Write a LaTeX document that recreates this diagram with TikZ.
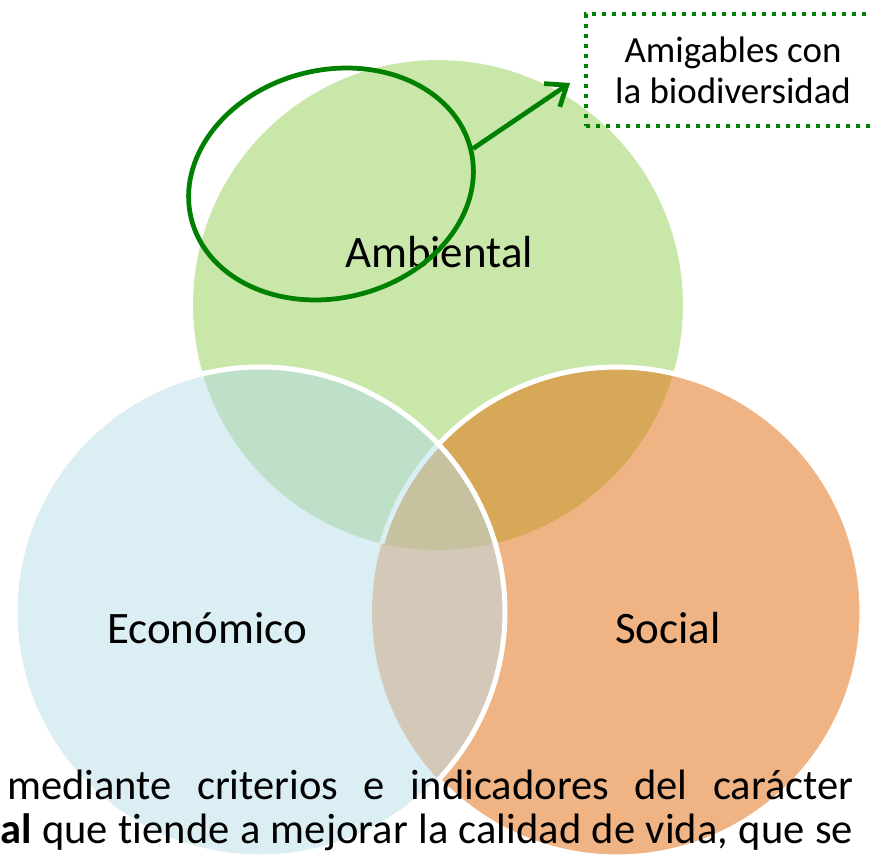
\documentclass[tikz,border=0pt]{standalone}
\usepackage{fontspec}
\setmainfont{Carlito}[Ligatures=NoCommon]
\usetikzlibrary{arrows.meta,shapes.geometric,positioning}
\definecolor{ambverde}{HTML}{C9E7A9}
\definecolor{ecoazul}{HTML}{DAEEF3}
\definecolor{socnaranja}{HTML}{F0B383}
\definecolor{verdeazul}{HTML}{BFE0C8}
\definecolor{verdenaranja}{HTML}{D6A858}
\definecolor{azulnaranja}{HTML}{D4C9B8}
\definecolor{centro}{HTML}{C6C2A0}
\definecolor{marca}{HTML}{008000}

\begin{document}
\begin{tikzpicture}[x=0.02cm,y=-0.02cm,
		esfera/.style={circle,inner sep=0pt,minimum size=9.8cm},
		borde/.style={white,line width=0.1cm},
		etiqueta/.style={anchor=base,inner sep=0pt,font=\fontsize{25.6}{30}\selectfont},
		parrafo/.style={anchor=base west,inner sep=0pt,font=\fontsize{24.2}{28}\selectfont}]
	\useasboundingbox (0,0) rectangle (870,855);
	\node[esfera,fill=ambverde] (amb) at (438,305) {};
	\node[esfera,fill=socnaranja] (soc) at (617,612) {};
	\begin{scope}
		\clip (soc.center) circle[radius=4.9cm];
		\fill[verdenaranja] (amb.center) circle[radius=4.9cm];
	\end{scope}
	\draw[borde] (soc.center) circle[radius=4.9cm];
	\node[esfera,fill=ecoazul] (eco) at (260,612) {};
	\begin{scope}
		\clip (eco.center) circle[radius=4.9cm];
		\fill[verdeazul] (amb.center) circle[radius=4.9cm];
		\fill[azulnaranja] (soc.center) circle[radius=4.9cm];
		\clip (amb.center) circle[radius=4.9cm];
		\fill[centro] (soc.center) circle[radius=4.9cm];
		\draw[ecoazul,line width=0.1cm] (soc.center) circle[radius=4.9cm];
	\end{scope}
	\draw[borde] (eco.center) circle[radius=4.9cm];

	\node[etiqueta] (tamb) at (439,268) {Ambiental};
	\node[etiqueta] (teco) at (207,643) {Económico};
	\node[etiqueta] (tsoc) at (668,643) {Social};

	\node[ellipse,draw=marca,line width=0.095cm,minimum width=5.76cm,minimum height=4.56cm,rotate=14] (sel) at (331,184) {};
	\node[draw=marca,line width=0.08cm,dash pattern=on 0.08cm off 0.12cm,minimum width=5.88cm,minimum height=2.24cm,
		align=center,font=\fontsize{21}{23.3}\selectfont] (bio) at (733,70) {Amigables con\\la biodiversidad};
	\draw[marca,line width=0.095cm,-{Straight Barb[length=0.36cm,width=0.56cm]}] (sel.east) -- ([xshift=-0.28cm,yshift=-0.26cm]bio.west);

	\node[parrafo] (linea1) at (7,799) {\makebox[16.92cm][s]{mediante criterios e indicadores del carácter}};
	\node[parrafo] (linea2) at (0,843) {\makebox[17.06cm][s]{\textbf{al} que tiende a mejorar la calidad de vida, que se}};
\end{tikzpicture}
\end{document}
